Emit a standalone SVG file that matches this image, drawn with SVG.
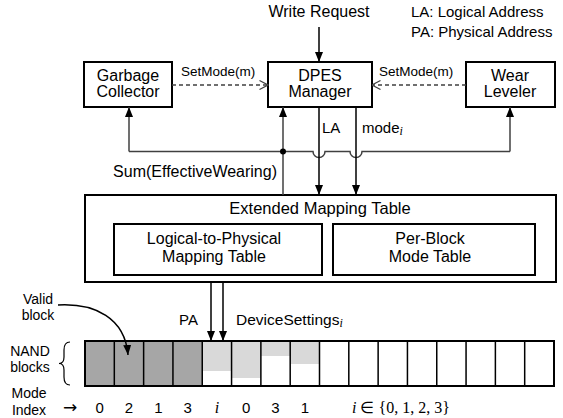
<svg xmlns="http://www.w3.org/2000/svg" width="563" height="418" viewBox="0 0 563 418">
<style>
text{font-family:"Liberation Sans",Arial,sans-serif;font-size:16px;fill:#000}
.box{fill:#fff;stroke:#000;stroke-width:2}
.c{text-anchor:middle}
.sm{font-size:13.5px}
.lg{font-size:15px}
.tl{font-size:14px}
.ttl{font-size:16.5px}
.ds{font-size:15.5px}
.arrow{font-family:"DejaVu Sans",sans-serif;font-size:17px}
.ln{fill:none;stroke:#000;stroke-width:1.5}
.gl{fill:none;stroke:#404040;stroke-width:1.5}
.dash{fill:none;stroke:#404040;stroke-width:1.3;stroke-dasharray:4 3}
.cell{fill:none;stroke:#000;stroke-width:1.5}
.sub{font-family:"Liberation Serif",serif;font-style:italic;font-size:12px}
.ser{font-family:"Liberation Serif",serif}
.it{font-style:italic}
</style>
<defs>
<marker id="arr" viewBox="0 0 10 8" refX="10" refY="4" markerWidth="10" markerHeight="8" markerUnits="userSpaceOnUse" orient="auto"><path d="M0,0 L10,4 L0,8 z" fill="#000"/></marker>
<marker id="open" viewBox="0 0 10 10" refX="9.5" refY="5" markerWidth="10" markerHeight="10" markerUnits="userSpaceOnUse" orient="auto"><path d="M1,0.5 L9.5,5 L1,9.5" fill="none" stroke="#404040" stroke-width="1.2"/></marker>
</defs>

<g id="legend">
<text class="lg" x="411" y="17">LA: Logical Address</text>
<text class="lg" x="411" y="37">PA: Physical Address</text>
</g>

<g id="write-request"><text class="c" x="319" y="17">Write Request</text></g>

<g id="garbage-collector">
<rect class="box" x="84" y="62" width="88" height="45"/>
<text class="c" x="128" y="81">Garbage</text>
<text class="c" x="128" y="97">Collector</text>
</g>

<g id="dpes-manager">
<rect class="box" x="268" y="62" width="104" height="45"/>
<text class="c" x="320" y="81">DPES</text>
<text class="c" x="320" y="97">Manager</text>
</g>

<g id="wear-leveler">
<rect class="box" x="466" y="62" width="89" height="45"/>
<text class="c" x="510" y="81">Wear</text>
<text class="c" x="510" y="97">Leveler</text>
</g>

<g id="extended-mapping-table">
<rect class="box" x="85" y="195" width="471" height="87"/>
<text class="c ttl" x="320" y="214">Extended Mapping Table</text>
</g>
<g id="l2p-table">
<rect class="box" x="114" y="224" width="208" height="51"/>
<text class="c" x="214" y="244">Logical-to-Physical</text>
<text class="c" x="214" y="262">Mapping Table</text>
</g>
<g id="per-block-mode-table">
<rect class="box" x="333" y="224" width="202" height="51"/>
<text class="c" x="430" y="244">Per-Block</text>
<text class="c" x="430" y="262">Mode Table</text>
</g>

<g id="nand-blocks">
<rect x="85" y="341" width="117.25" height="45" fill="#a6a6a6"/>
<rect x="202.25" y="341" width="29.31" height="30" fill="#d9d9d9"/>
<rect x="231.56" y="341" width="29.31" height="37" fill="#d9d9d9"/>
<rect x="260.88" y="341" width="29.31" height="15" fill="#d9d9d9"/>
<rect x="290.19" y="341" width="29.31" height="23" fill="#d9d9d9"/>
<path class="cell" d="M114.31,341V386M143.63,341V386M172.94,341V386M202.25,341V386M231.56,341V386M260.88,341V386M290.19,341V386M319.5,341V386M348.81,341V386M378.13,341V386M407.44,341V386M436.75,341V386M466.06,341V386M495.38,341V386M524.69,341V386"/>
<rect x="85" y="341" width="469" height="45" fill="none" stroke="#000" stroke-width="2"/>
</g>

<g id="labels">
<text x="38" y="304" class="c tl">Valid</text>
<text x="38" y="320" class="c tl">block</text>
<text x="30" y="356" class="c tl">NAND</text>
<text x="30" y="372" class="c tl">blocks</text>
<path d="M70,342 Q64,342 64,350 L64,357 Q64,363.5 59,363.5 Q64,363.5 64,370 L64,377 Q64,385 70,385" fill="none" stroke="#000" stroke-width="1.2"/>
<text x="29" y="398" class="c tl">Mode</text>
<text x="29" y="415" class="c tl">Index</text>
<text x="70" y="413" class="c arrow">→</text>
<text class="c lg" x="99.7" y="413">0</text>
<text class="c lg" x="129" y="413">2</text>
<text class="c lg" x="158.3" y="413">1</text>
<text class="c lg" x="187.6" y="413">3</text>
<text class="c ser it" x="216.9" y="413">i</text>
<text class="c lg" x="246.2" y="413">0</text>
<text class="c lg" x="275.5" y="413">3</text>
<text class="c lg" x="304.8" y="413">1</text>
<text class="ser" x="352" y="413"><tspan class="it">i</tspan> ∈ {0, 1, 2, 3}</text>
<text class="sm" x="181" y="76">SetMode(m)</text>
<text class="sm" x="379" y="76">SetMode(m)</text>
<text class="lg" x="322" y="133">LA</text>
<text class="lg" x="362" y="133">mode<tspan class="sub" dy="2">i</tspan></text>
<text x="277" y="177" text-anchor="end">Sum(EffectiveWearing)</text>
<text class="lg" x="198" y="325" text-anchor="end">PA</text>
<text class="ds" x="236" y="325">DeviceSettings<tspan class="sub" dy="2">i</tspan></text>
</g>

<g id="connectors">
<path class="ln" d="M319,27V62" marker-end="url(#arr)"/>
<path class="dash" d="M172,85H268" marker-end="url(#open)"/>
<path class="dash" d="M466,85H372" marker-end="url(#open)"/>
<path class="gl" d="M129,151.5V107" marker-end="url(#arr)"/>
<path class="gl" d="M510,151.5V107" marker-end="url(#arr)"/>
<path class="gl" d="M283,195V107" marker-end="url(#arr)"/>
<path class="gl" d="M129,151.5H313A6,6 0 0 0 325,151.5H350A6,6 0 0 0 362,151.5H510"/>
<circle cx="283" cy="151.5" r="3" fill="#000"/>
<path class="ln" d="M319,107V195" marker-end="url(#arr)"/>
<path class="ln" d="M356,107V195" marker-end="url(#arr)"/>
<path class="ln" d="M211,282V341" marker-end="url(#arr)"/>
<path class="ln" d="M223,282V341" marker-end="url(#arr)"/>
<path class="ln" d="M58,305C95,303 125,318 128,355" marker-end="url(#arr)"/>
</g>
</svg>
